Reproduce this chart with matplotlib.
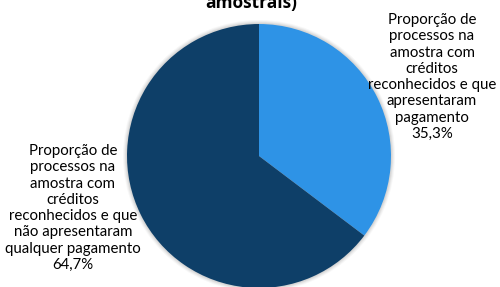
import matplotlib.pyplot as plt
from matplotlib.patches import Circle

# Data
labels = ['Proporção de\nprocessos na\namostra com\ncréditos\nreconhecidos e que\napresentaram\npagamento',
          'Proporção de\nprocessos na\namostra com\ncréditos\nreconhecidos e que\nnão apresentaram\nqualquer pagamento']
values = [35.3, 64.7]
colors = ['#2E93E6', '#0E3F68']
title = 'amostrais)'

fig = plt.figure(figsize=(5, 2.87), dpi=100)
ax = fig.add_axes([0, 0, 1, 1])

cx, cy, r = 259, 131, 132

# soft shadow
for i, a in enumerate([0.05, 0.05, 0.04, 0.03]):
    ax.add_patch(Circle((cx, cy), r + 1 + i, color='black', alpha=a, lw=0, zorder=0))

ax.pie(values, colors=colors, startangle=90, counterclock=False,
       center=(cx, cy), radius=r, frame=True,
       wedgeprops=dict(linewidth=0))
ax.set_xlim(0, 500)
ax.set_ylim(0, 287)
ax.set_aspect('equal')
ax.axis('off')

font = 'Lato'
ax.text(432, 210, labels[0] + '\n' + f'{values[0]:.1f}%'.replace('.', ','),
        ha='center', va='center', fontsize=10.8, family=font, linespacing=1.21)
ax.text(73, 79, labels[1] + '\n' + f'{values[1]:.1f}%'.replace('.', ','),
        ha='center', va='center', fontsize=10.8, family=font, linespacing=1.21)

ax.text(251, 284, title, ha='center', va='center', fontsize=12.5, fontweight='bold', family='Open Sans')

fig.savefig('out.png', dpi=100)
